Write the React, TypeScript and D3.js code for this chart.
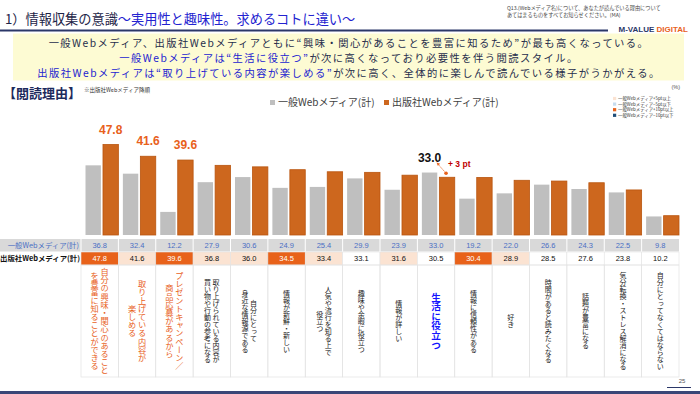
import React, { useEffect, useRef } from 'react';
import * as d3 from 'd3';

// 閲読理由 (出版社Webメディア降順)
const categories = [
  '自分の興味・関心のあること\nを豊富に知ることができる',
  '取り上げている内容が\n楽しめる',
  'プレゼントキャンペーン／\n商品応募があるから',
  '取り上げられている内容が\n買い物や行動の参考になる',
  '自分にとって\n身近な情報源である',
  '情報が新鮮・新しい',
  '人気や流行を知る上で\n役立つ',
  '趣味や余暇に役立つ',
  '情報が詳しい',
  '生活に役立つ',
  '情報に信頼性がある',
  '好き',
  '時間があると読みたくなる',
  '話題が豊富になる',
  '気分転換・ストレス解消になる',
  '自分にとってなくてはならない',
];
const generalValues = [36.8, 32.4, 12.2, 27.9, 30.6, 24.9, 25.4, 29.9, 23.9, 33.0, 19.2, 22.0, 26.6, 24.3, 22.5, 9.8];
const publisherValues = [47.8, 41.6, 39.6, 36.8, 36.0, 34.5, 33.4, 33.1, 31.6, 30.5, 30.4, 28.9, 28.5, 27.6, 23.8, 10.2];
// 一般Webメディアとの差のマーク
const diffMarks = ['+10', '+5', '+10', '+5', '+5', '+10', '+5', '', '+5', '', '+10', '+5', '', '', '', ''];
// 強調するカテゴリ
const emphasis = ['pub', 'pub', 'pub', '', '', '', '', '', '', 'gen', '', '', '', '', '', ''];
const seriesNames = ['一般Webメディア(計)', '出版社Webメディア(計)'];
const markLegend = [
  { key: '+5', label: '一般Webメディア+5pt以上' },
  { key: '-5', label: '一般Webメディア−5pt以下' },
  { key: '+10', label: '一般Webメディア+10pt以上' },
  { key: '-10', label: '一般Webメディア−10pt以下' },
];

const JP = '"Noto Sans CJK JP", sans-serif';
const NUM = '"Liberation Sans", Arial, "Noto Sans CJK JP", sans-serif';
const NAVY = '#2b3768';
const ORANGE = '#e8611c';
const BLUE = '#2323d0';
const markColor = { '+5': '#fbe3d2', '-5': '#c5dcef', '+10': '#e8621a', '-10': '#1f4e79' };

const App = () => {
  const svgRef = useRef(null);

  useEffect(() => {
    const W = 700, H = 394;
    const svg = d3.select(svgRef.current);
    svg.selectAll('*').remove();
    svg.attr('width', W).attr('height', H).style('background', 'white');

    // ---- summary box (drawn first so header sits on top) ----
    svg.append('rect').attr('x', 13).attr('y', 33.5).attr('width', 671).attr('height', 47).attr('fill', '#fdfbd3');

    // ---- header ----
    const title = svg.append('text').attr('x', 5).attr('y', 24)
      .style('font-family', JP).style('font-size', '13.2px');
    title.append('tspan').attr('fill', '#1d2447').text('1）情報収集の意識');
    title.append('tspan').attr('fill', BLUE).text('～実用性と趣味性。求めるコトに違い～');

    svg.append('rect').attr('x', 0).attr('y', 29.5).attr('width', 608).attr('height', 2).attr('fill', NAVY);
    const brand = svg.append('text').attr('x', 688).attr('y', 31.8).attr('text-anchor', 'end')
      .style('font-family', NUM).style('font-size', '8px').style('font-weight', 'bold');
    brand.append('tspan').attr('fill', NAVY).text('M-VALUE ');
    brand.append('tspan').attr('fill', ORANGE).text('DIGITAL');

    const q = ['Q13.(Webメディア名)について、あなたが読んでいる理由について', 'あてはまるものをすべてお知らせください。(MA)'];
    svg.selectAll('.q').data(q).enter().append('text')
      .attr('x', 507).attr('y', (d, i) => 10 + i * 6.8)
      .style('font-family', JP).style('font-size', '5.2px').attr('fill', '#444')
      .text(d => d);

    const lines = [
      [['一般Webメディア、出版社Webメディアともに“興味・関心があることを豊富に知るため”が最も高くなっている。', '#262d4c']],
      [['一般Webメディアは“生活に役立つ”', BLUE], ['が次に高くなっており必要性を伴う閲読スタイル。', '#262d4c']],
      [['出版社Webメディアは“取り上げている内容が楽しめる”', BLUE], ['が次に高く、全体的に楽しんで読んでいる様子がうかがえる。', '#262d4c']],
    ];
    lines.forEach((parts, i) => {
      const t = svg.append('text').attr('x', 349).attr('y', 46.5 + i * 15.1).attr('text-anchor', 'middle')
        .style('font-family', JP).style('font-size', '10.3px').style('letter-spacing', '1.45px');
      parts.forEach(([s, c]) => t.append('tspan').attr('fill', c).text(s));
    });

    // ---- section label ----
    svg.append('text').attr('x', 3).attr('y', 98).attr('fill', '#1d2a5c')
      .style('font-family', JP).style('font-size', '13px').style('font-weight', 'bold').text('【閲読理由】');
    svg.append('text').attr('x', 84).attr('y', 92).attr('fill', '#333')
      .style('font-family', JP).style('font-size', '5.5px').text('※出版社Webメディア降順');
    svg.append('text').attr('x', 680).attr('y', 89).attr('text-anchor', 'end').attr('fill', '#555')
      .style('font-family', NUM).style('font-size', '5.5px').text('(%)');

    // ---- scales ----
    const x = d3.scaleBand().domain(d3.range(categories.length)).range([81, 679]);
    const inner = d3.scaleBand().domain([0, 1]).range([4.5, x.bandwidth()]).paddingInner(0.12);
    const y = d3.scaleLinear().domain([0, 50]).range([235, 235 - 50 * 1.893]);
    const barColors = ['#bfbfbf', '#cd671e'];

    // legend (series)
    const leg = svg.append('g');
    seriesNames.forEach((name, i) => {
      const lx = 270 + i * 114;
      leg.append('rect').attr('x', lx).attr('y', 100).attr('width', 5).attr('height', 5).attr('fill', barColors[i]);
      leg.append('text').attr('x', lx + 8).attr('y', 106).attr('fill', '#404040')
        .style('font-family', JP).style('font-size', '10px').text(name);
    });

    // legend (marks)
    markLegend.forEach((m, i) => {
      const ly = 96.5 + i * 5.6;
      svg.append('rect').attr('x', 613).attr('y', ly + 0.4).attr('width', 3.2).attr('height', 3.2).attr('fill', markColor[m.key]);
      svg.append('text').attr('x', 618).attr('y', ly + 3.6).attr('fill', '#333')
        .style('font-family', JP).style('font-size', '4.4px').text(m.label);
    });

    // ---- bars ----
    const series = [generalValues, publisherValues];
    const groups = svg.append('g').selectAll('g').data(categories).enter().append('g')
      .attr('transform', (d, i) => `translate(${x(i)},0)`);
    series.forEach((vals, s) => {
      groups.append('rect')
        .attr('x', inner(s))
        .attr('width', inner.bandwidth())
        .attr('y', (d, i) => y(vals[i]))
        .attr('height', (d, i) => y(0) - y(vals[i]))
        .attr('fill', barColors[s])
        .attr('stroke', s === 1 ? '#b9550f' : 'none')
        .attr('stroke-width', 0.8);
    });

    // value callouts
    emphasis.forEach((e, i) => {
      if (e === 'pub') {
        svg.append('text')
          .attr('x', x(i) + inner(1) + inner.bandwidth() / 2)
          .attr('y', y(publisherValues[i]) - 11)
          .attr('text-anchor', 'middle').attr('fill', ORANGE)
          .style('font-family', NUM).style('font-size', '12px').style('font-weight', 'bold')
          .text(publisherValues[i].toFixed(1));
      }
      if (e === 'gen') {
        const gx = x(i) + inner(0) + inner.bandwidth() / 2;
        const px = x(i) + inner(1) + inner.bandwidth() / 2;
        svg.append('text').attr('x', gx).attr('y', y(generalValues[i]) - 10.5)
          .attr('text-anchor', 'middle').attr('fill', '#111')
          .style('font-family', NUM).style('font-size', '12px').style('font-weight', 'bold')
          .text(generalValues[i].toFixed(1));
        const diff = Math.round(generalValues[i] - publisherValues[i]);
        svg.append('text').attr('x', px + 1).attr('y', y(publisherValues[i]) - 10)
          .attr('fill', '#c00000')
          .style('font-family', NUM).style('font-size', '8.5px').style('font-weight', 'bold')
          .text(`+ ${diff} pt`);
        const x0 = px - 1, y0 = y(publisherValues[i]) - 4;
        svg.append('line').attr('x1', x0).attr('y1', y0).attr('x2', x0 - 8).attr('y2', y0 - 9)
          .attr('stroke', ORANGE).attr('stroke-width', 0.9).attr('stroke-dasharray', '1.5,1');
        svg.append('path').attr('d', `M${x0 - 9.5},${y0 - 10.8}l3.6,1.2l-2.4,2.1z`).attr('fill', ORANGE);
        svg.append('circle').attr('cx', x0).attr('cy', y0).attr('r', 1.8).attr('fill', ORANGE);
      }
    });

    // ---- table ----
    const r1 = 239, r2 = 252, r3 = 265, rEnd = 377;
    svg.append('rect').attr('x', 0).attr('y', r1).attr('width', 679).attr('height', r2 - r1 - 0.5).attr('fill', '#d9d9d9');
    svg.append('text').attr('x', 79).attr('y', r1 + 9).attr('text-anchor', 'end').attr('fill', '#4a6fc4')
      .style('font-family', JP).style('font-size', '7.4px').text(seriesNames[0]);
    svg.append('text').attr('x', 80).attr('y', r2 + 9).attr('text-anchor', 'end').attr('fill', '#111')
      .style('font-family', JP).style('font-size', '7.4px').style('font-weight', 'bold').text(seriesNames[1]);

    const cells = svg.append('g').selectAll('g').data(categories).enter().append('g')
      .attr('transform', (d, i) => `translate(${x(i)},0)`);
    const bw = x.bandwidth();
    cells.append('line').attr('x1', 0).attr('x2', 0).attr('y1', r1).attr('y2', r2).attr('stroke', '#fff').attr('stroke-width', 1);
    cells.append('text').attr('x', bw / 2).attr('y', r1 + 9).attr('text-anchor', 'middle').attr('fill', '#4a6fc4')
      .style('font-family', NUM).style('font-size', '7.5px').text((d, i) => generalValues[i].toFixed(1));
    cells.append('rect').attr('x', 0).attr('y', r2).attr('width', bw).attr('height', r3 - r2)
      .attr('fill', (d, i) => markColor[diffMarks[i]] || '#fff')
      .attr('stroke', '#e3e3e3').attr('stroke-width', 0.6);
    cells.append('text').attr('x', bw / 2).attr('y', r2 + 9.3).attr('text-anchor', 'middle')
      .attr('fill', (d, i) => (diffMarks[i] === '+10' || diffMarks[i] === '-10' ? '#fff' : '#111'))
      .style('font-family', NUM).style('font-size', '7.5px').text((d, i) => publisherValues[i].toFixed(1));
    cells.append('rect').attr('x', 0).attr('y', r3).attr('width', bw).attr('height', rEnd - r3)
      .attr('fill', 'none').attr('stroke', '#e3e3e3').attr('stroke-width', 0.7);

    // vertical category labels
    cells.each(function (d, i) {
      const g = d3.select(this);
      const parts = d.split('\n');
      const style = emphasis[i] === 'pub' ? { fs: 8.2, lh: 10, c: ORANGE, w: 'normal' }
        : emphasis[i] === 'gen' ? { fs: 9.6, lh: 11, c: '#1414ff', w: 'bold' }
        : { fs: 7, lh: 8.5, c: '#222', w: 'normal' };
      parts.forEach((p, k) => {
        g.append('text')
          .attr('x', bw / 2 + ((parts.length - 1) / 2 - k) * style.lh)
          .attr('y', (r3 + rEnd) / 2)
          .attr('text-anchor', 'middle')
          .style('writing-mode', 'vertical-rl')
          .style('font-family', JP).style('font-size', `${style.fs}px`).style('font-weight', style.w)
          .attr('fill', style.c)
          .text(p);
      });
    });

    // ---- footer ----
    svg.append('text').attr('x', 682).attr('y', 383).attr('text-anchor', 'middle').attr('fill', '#555')
      .style('font-family', NUM).style('font-size', '6px').text('25');
    svg.append('rect').attr('x', 667).attr('y', 387).attr('width', 24).attr('height', 1).attr('fill', NAVY);
    svg.append('rect').attr('x', 0).attr('y', 391).attr('width', W).attr('height', 3).attr('fill', '#3a4677');
  }, []);

  return <svg ref={svgRef} style={{ position: 'absolute', left: 0, top: 0 }} />;
};

export default App;
